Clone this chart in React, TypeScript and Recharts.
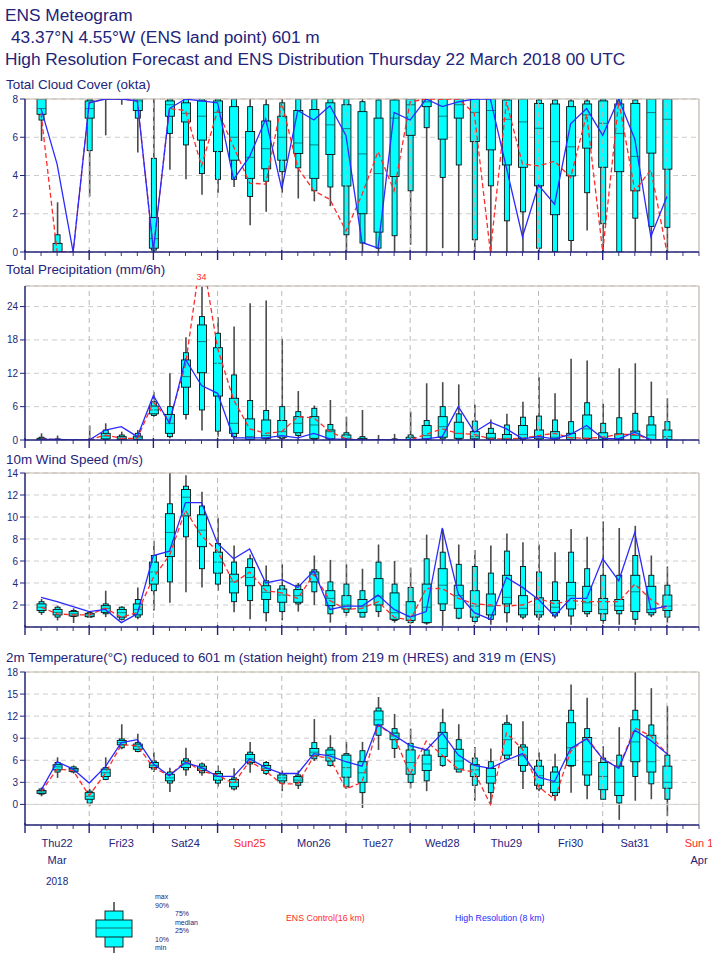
import React from "react";
import { ComposedChart, Bar, Line, XAxis, YAxis, CartesianGrid, ReferenceLine } from "recharts";

const NAVY = "#23237a";
const RED = "#ff2a2a";
const BLUE = "#2a2aff";
const FRAME = "#c2b6ac";
const FONT = '"Liberation Sans", Arial, Helvetica, sans-serif';

// forecast steps (hours after Thu 22 March 2018 00 UTC)
const stepHours = Array.from({ length: 40 }, (_, i) => (i + 1) * 6);
const axisTicks = Array.from({ length: 43 }, (_, i) => i * 6);
const dayBoundaries = [24, 48, 72, 96, 120, 144, 168, 192, 216, 240];
const dayLabels = ["Thu22", "Fri23", "Sat24", "Sun25", "Mon26", "Tue27", "Wed28", "Thu29", "Fri30", "Sat31", "Sun 1"];

// box rows: [min, p10, p25, median, p75, p90, max]
const cloudBoxes = [
  [5.8, 6.9, 7.2, 7.5, 8, 8, 8], [0, 0, 0, 0, 0.45, 0.9, 2.6], [0, 0, 0, 0, 0, 0, 0], [2.9, 5.3, 7.0, 7.5, 7.9, 8, 8],
  [6.1, 8, 8, 8, 8, 8, 8], [7.7, 8, 8, 8, 8, 8, 8], [5.2, 7.0, 7.4, 7.9, 8, 8, 8], [0, 0.1, 0.2, 0.7, 1.8, 4.9, 8],
  [4.3, 6.2, 7.1, 7.7, 7.9, 8, 8], [3.8, 5.6, 6.8, 7.25, 7.8, 8, 8], [3.0, 4.1, 5.85, 7.1, 7.9, 8, 8], [3.1, 3.8, 5.25, 7.3, 7.9, 8, 8],
  [3.4, 3.8, 4.8, 6.0, 7.6, 8, 8], [1.4, 2.9, 3.85, 4.95, 6.3, 7.6, 8], [2.1, 3.7, 4.35, 5.4, 6.85, 7.7, 8], [3.1, 4.2, 4.8, 6.0, 7.1, 7.8, 8],
  [2.8, 4.4, 5.15, 5.7, 7.4, 8, 8], [2.65, 3.2, 3.85, 5.6, 7.45, 8, 8], [2.4, 3.4, 5.1, 6.65, 7.8, 8, 8], [0, 0.9, 3.45, 6.45, 7.7, 8, 8],
  [0, 0.47, 2.0, 5.13, 7.34, 7.86, 8], [0, 0.2, 1.04, 4.1, 7.0, 7.95, 8], [0, 0.85, 3.95, 7.0, 7.95, 7.95, 8], [0.38, 3.2, 6.1, 7.7, 8, 8, 8],
  [0, 6.5, 7.6, 7.85, 8, 8, 8], [0.2, 3.9, 5.9, 7.1, 8, 8, 8], [0, 4.55, 7.0, 7.7, 8, 8, 8], [0, 0.64, 5.77, 7.3, 8, 8, 8],
  [0, 3.46, 5.34, 7.4, 8, 8, 8], [0, 1.63, 4.55, 6.94, 7.95, 8, 8], [0, 2.1, 4.43, 6.8, 8, 8, 8], [0, 0.2, 3.46, 6.47, 7.77, 7.95, 8],
  [0, 0.03, 1.95, 5.77, 7.74, 7.95, 8], [0, 0.6, 3.98, 5.5, 7.6, 7.9, 8], [1.13, 3.1, 5.43, 7.17, 7.74, 7.9, 8], [0, 1.48, 4.43, 6.73, 7.9, 8, 8],
  [0, 0, 4.2, 6.2, 7.74, 8, 8], [0, 1.77, 3.2, 5.0, 7.77, 7.95, 8], [0, 1.34, 5.17, 7.29, 8, 8, 8], [0, 1.29, 4.33, 6.94, 8, 8, 8],
];
const cloudControl = [7.25, 0, 0, 7.8, 8, 8, 7.9, 0.1, 7.5, 7.4, 4.5, 7.4, 5.5, 3.6, 3.55, 7.8, 4.4, 3.2, 2.75, 1.1,
  3.0, 5.25, 3.2, 7.85, 8, 8, 8, 7.25, 0, 7.85, 4.6, 4.5, 4.75, 3.9, 7.2, 0, 7.9, 3.2, 4.3, 0];
const cloudHres = [7.5, 4.6, 0, 7.8, 8, 8, 7.9, 0.1, 7.5, 8, 7.9, 7.8, 3.8, 5.0, 6.95, 3.3, 7.4, 6.9, 7.65, 6.1,
  0.5, 0.2, 7.3, 6.9, 8, 7.6, 7.85, 8, 8, 4.4, 0.8, 3.5, 2.5, 6.7, 7.5, 6.1, 8, 5.9, 0.8, 2.9];

const precipBoxes = [
  [0, 0, 0, 0.1, 0.3, 0.5, 1.2], [0, 0, 0, 0, 0.1, 0.2, 0.8], [0, 0, 0, 0, 0, 0, 0], [0, 0, 0, 0, 0, 0, 2.6],
  [0, 0.1, 0.2, 0.7, 1.2, 1.8, 3.0], [0, 0, 0.1, 0.3, 0.6, 0.9, 1.5], [0, 0, 0.1, 0.4, 0.7, 1.2, 1.8], [4.2, 4.4, 4.7, 5.4, 6.1, 6.9, 8.7],
  [0.3, 0.6, 1.2, 3.0, 4.6, 6.0, 12.0], [3.7, 4.6, 9.5, 11.4, 14.4, 15.7, 18.5], [1.7, 5.4, 12.1, 17.7, 20.7, 22.2, 27.6], [0.6, 1.6, 7.9, 13.8, 16.6, 19.2, 22.1],
  [0.1, 0.6, 1.2, 3.0, 7.5, 11.7, 20.4], [0, 0.1, 0.1, 0.6, 3.8, 7.1, 24.6], [0, 0.2, 0.3, 0.8, 3.6, 5.3, 25.1], [0, 0.3, 0.5, 1.5, 3.5, 6.0, 18.2],
  [0, 0.8, 1.3, 3.0, 4.2, 5.1, 8.8], [0, 0.1, 0.3, 2.7, 4.2, 5.7, 6.2], [0, 0, 0.2, 1.5, 1.8, 2.8, 7.2], [0, 0, 0, 0.3, 0.9, 1.3, 4.2],
  [0, 0, 0, 0.1, 0.3, 0.6, 5.4], [0, 0, 0, 0, 0, 0.1, 0.9], [0, 0, 0, 0, 0.1, 0.2, 1.1], [0, 0, 0, 0.1, 0.5, 0.9, 5.1],
  [0, 0.1, 0.2, 0.8, 2.6, 3.5, 10.2], [0, 0.2, 0.5, 2.4, 4.2, 6.0, 10.4], [0, 0.1, 0.3, 1.2, 3.2, 4.7, 10.0], [0, 0, 0.2, 0.6, 1.5, 3.4, 6.4],
  [0, 0, 0.2, 0.4, 1.2, 2.1, 3.7], [0, 0, 0.1, 0.3, 1.0, 2.7, 4.7], [0, 0.1, 0.3, 1.0, 2.6, 4.1, 6.9], [0, 0, 0.2, 0.6, 1.8, 4.3, 11.3],
  [0, 0, 0.2, 0.5, 1.5, 3.6, 8.4], [0, 0, 0.1, 0.4, 1.2, 3.3, 14.6], [0, 0.1, 0.3, 2.0, 4.5, 6.7, 14.3], [0, 0, 0.1, 0.5, 1.3, 3.0, 6.5],
  [0, 0, 0.1, 0.3, 1.1, 4.0, 12.9], [0, 0, 0.1, 0.8, 1.6, 4.8, 13.8], [0, 0, 0.1, 0.9, 2.7, 4.2, 10.5], [0, 0, 0.1, 0.6, 1.8, 3.3, 7.5],
];
const precipControl = [0.2, 0.1, 0, 0, 0.9, 0.3, 0.3, 6.8, 3.5, 13.5, 34, 16.5, 7.2, 2.0, 1.2, 1.5, 4.2, 4.0, 1.5, 0.2,
  0, 0, 0, 0, 1.0, 2.0, 1.2, 1.0, 0.2, 0.2, 0.3, 0.8, 1.2, 0.4, 0.3, 0.5, 1.0, 1.0, 0.1, 0];
const precipHres = [0.1, 0.1, 0, 0, 1.8, 2.4, 0.6, 8.0, 3.0, 14.5, 9.8, 8.4, 0.4, 0.4, 0.4, 0.8, 0.4, 1.2, 0.2, 0.1,
  0, 0, 0, 0, 0.2, 0.6, 6.0, 1.4, 3.2, 2.0, 0.2, 0.6, 0.2, 1.0, 2.6, 0.3, 0.2, 1.4, 0, 0];

const windBoxes = [
  [1.1, 1.33, 1.5, 1.8, 2.1, 2.3, 2.55], [0.6, 0.9, 1.1, 1.33, 1.6, 1.8, 1.95], [0.36, 0.95, 1.0, 1.2, 1.4, 1.5, 1.7], [0.85, 0.9, 0.94, 1.1, 1.24, 1.3, 1.4],
  [0.9, 1.2, 1.33, 1.7, 1.94, 2.1, 3.3], [0.6, 0.7, 0.9, 1.3, 1.6, 1.8, 1.9], [0.7, 0.9, 1.1, 1.6, 2.1, 2.5, 3.6], [1.5, 3.3, 3.9, 5.0, 5.9, 6.5, 7.85],
  [2.2, 4.1, 6.4, 8.6, 10.3, 11.2, 14], [3.15, 8.2, 10.1, 11.8, 12.5, 12.8, 13.8], [3.6, 5.3, 7.3, 8.8, 10.2, 11.0, 12.3], [3.3, 3.9, 4.9, 5.9, 6.8, 7.6, 9.9],
  [1.33, 2.3, 3.1, 4.1, 4.8, 5.9, 7.4], [0.7, 2.4, 3.75, 4.5, 5.4, 6.2, 6.6], [0.5, 1.3, 2.5, 3.15, 3.75, 4.2, 5.6], [0.6, 1.4, 2.25, 2.9, 3.45, 3.75, 5.7],
  [1.4, 2.1, 2.25, 2.85, 3.4, 3.8, 4.0], [2.0, 3.2, 4.1, 4.8, 5.0, 5.2, 6.5], [0.4, 1.2, 1.94, 2.6, 3.3, 4.1, 6.1], [1.0, 1.33, 1.64, 2.0, 2.85, 3.9, 5.7],
  [0.9, 0.9, 1.33, 1.9, 2.5, 3.3, 5.3], [0.9, 1.4, 2.0, 2.8, 4.4, 5.9, 7.5], [0.4, 0.6, 0.7, 1.3, 3.1, 3.9, 6.0], [0.3, 0.4, 0.6, 1.0, 2.3, 3.6, 5.4],
  [0.2, 0.36, 0.4, 1.8, 3.9, 6.2, 8.4], [0.1, 1.5, 2.1, 3.8, 5.3, 6.8, 8.9], [0.7, 0.8, 1.7, 2.85, 3.8, 5.7, 7.5], [0.3, 0.5, 0.9, 1.9, 3.3, 5.5, 7.0],
  [0.2, 0.7, 1.1, 1.9, 3.0, 4.9, 7.4], [0.4, 1.3, 2.1, 2.7, 4.7, 6.9, 8.5], [0.7, 0.9, 1.1, 1.7, 2.85, 5.5, 7.7], [0.6, 0.9, 1.1, 1.4, 2.65, 5.0, 7.5],
  [0.8, 1.0, 1.3, 1.8, 2.4, 4.1, 6.8], [0.2, 1.0, 1.64, 2.85, 4.06, 6.8, 8.9], [0.9, 1.2, 1.4, 2.2, 3.7, 5.3, 8.2], [0.3, 0.6, 1.2, 1.6, 2.6, 4.7, 9.6],
  [0.2, 1.2, 1.5, 1.9, 2.5, 4.7, 9.0], [0.2, 0.7, 1.4, 3.2, 4.7, 6.5, 9.2], [0.9, 1.1, 1.3, 1.6, 3.7, 4.7, 6.5], [0.4, 0.9, 1.5, 1.9, 2.9, 3.8, 5.5],
];
const windControl = [1.8, 1.2, 1.1, 1.1, 1.7, 0.9, 1.3, 4.5, 6.5, 10.6, 8.3, 6.9, 4.0, 5.0, 3.3, 3.1, 2.6, 4.8, 2.4, 1.6,
  1.7, 2.3, 0.9, 0.6, 3.5, 3.5, 2.6, 2.1, 2.0, 1.9, 2.0, 2.6, 2.1, 2.4, 2.3, 2.3, 2.3, 3.9, 2.5, 1.6];
const windHres = [2.7, 2.3, 1.85, 1.4, 1.6, 0.4, 1.2, 6.5, 6.9, 11.3, 11.3, 7.6, 6.2, 7.1, 4.0, 4.3, 3.6, 5.1, 1.6, 1.9,
  1.9, 2.9, 1.6, 0.9, 1.4, 9.0, 3.0, 1.3, 0.7, 4.5, 3.6, 2.5, 1.0, 2.6, 2.6, 6.2, 4.2, 8.6, 1.6, 1.9];

const tempBoxes = [
  [1.1, 1.4, 1.5, 1.7, 1.9, 2.1, 2.3], [3.6, 4.4, 4.7, 5.1, 5.4, 5.7, 6.4], [4.2, 4.4, 4.5, 4.7, 4.9, 5.1, 5.3], [-0.2, 0.2, 0.7, 1.1, 1.6, 1.8, 2.1],
  [3.3, 3.4, 3.8, 4.3, 4.8, 5.0, 6.4], [7.5, 7.7, 8.1, 8.4, 8.7, 8.9, 10.9], [7.1, 7.2, 7.5, 7.9, 8.2, 8.4, 9.6], [4.4, 4.8, 5.0, 5.3, 5.7, 5.9, 7.1],
  [1.7, 2.9, 3.2, 3.6, 4.1, 4.4, 5.0], [3.9, 4.7, 5.0, 5.5, 5.9, 6.2, 7.7], [3.9, 4.3, 4.6, 4.9, 5.2, 5.5, 5.7], [2.4, 2.9, 3.3, 3.8, 4.2, 4.5, 5.3],
  [1.9, 2.1, 2.4, 3.0, 3.4, 3.6, 4.9], [4.3, 5.5, 5.7, 6.2, 6.8, 7.1, 8.5], [4.0, 4.2, 4.6, 4.9, 5.3, 5.7, 5.9], [1.8, 2.9, 3.2, 3.6, 4.0, 4.2, 4.6],
  [2.1, 2.6, 3.0, 3.3, 3.8, 4.0, 4.6], [5.9, 6.2, 6.6, 7.1, 7.6, 8.4, 11.6], [5.15, 5.3, 5.9, 6.8, 7.4, 7.7, 9.4], [2.1, 2.4, 3.7, 5.0, 6.7, 6.9, 8.5],
  [-0.5, 1.6, 3.0, 4.3, 5.8, 7.3, 8.5], [7.4, 9.4, 10.8, 11.5, 12.7, 13.1, 14.6], [6.3, 7.6, 8.8, 9.3, 9.7, 10.3, 12.3], [2.2, 3.0, 4.1, 5.7, 7.4, 8.3, 10.3],
  [1.8, 3.2, 4.6, 5.5, 6.7, 7.4, 7.6], [5.1, 5.3, 6.5, 7.6, 9.8, 11.1, 13.0], [4.4, 4.4, 4.8, 5.9, 7.5, 8.8, 10.9], [0.5, 2.6, 3.8, 4.7, 5.4, 6.3, 7.8],
  [0, 1.6, 2.9, 3.8, 4.9, 5.8, 7.6], [6.2, 6.2, 6.7, 8.8, 10.9, 11.1, 12.2], [2.1, 4.5, 5.3, 6.6, 7.8, 8.1, 11.3], [1.8, 2.1, 2.6, 3.9, 5.2, 6.0, 7.1],
  [0.5, 1.2, 1.6, 3.0, 4.4, 5.1, 6.9], [1.6, 5.2, 5.3, 7.7, 11.1, 12.8, 16.3], [0.7, 2.6, 4.0, 5.8, 9.1, 10.3, 14.5], [0.7, 0.7, 2.0, 3.8, 5.7, 6.3, 7.9],
  [-2.1, 0.2, 1.2, 3.0, 5.2, 6.7, 10.5], [0.5, 3.8, 5.8, 8.5, 11.5, 12.8, 18.0], [0.7, 2.8, 4.4, 5.8, 9.4, 10.8, 15.8], [-1.6, 0.7, 2.2, 3.0, 5.2, 6.7, 13.4],
];
const tempControl = [1.7, 4.8, 4.6, 1.2, 4.2, 8.1, 8.0, 5.0, 3.9, 5.9, 4.5, 4.0, 2.8, 5.9, 4.5, 2.8, 2.8, 6.6, 6.3, 2.1,
  3.0, 10.8, 9.3, 4.1, 8.6, 6.7, 4.8, 4.4, 0, 9.7, 7.5, 2.4, 0.7, 7.2, 9.1, 6.2, 5.0, 10.4, 9.3, 6.9];
const tempHres = [1.9, 5.8, 4.8, 2.9, 5.1, 8.4, 8.8, 5.5, 3.9, 5.7, 5.0, 3.8, 3.8, 6.2, 5.0, 4.2, 4.2, 6.9, 6.6, 5.8,
  5.2, 10.9, 9.4, 8.0, 7.4, 9.7, 6.7, 5.3, 4.9, 6.0, 6.9, 3.7, 3.1, 7.6, 8.9, 6.2, 4.9, 10.1, 8.7, 6.9];

function buildRows(boxes: number[][], control: number[], hres: number[]) {
  return stepHours.map((h, i) => ({
    hour: h,
    range: [boxes[i][0], boxes[i][6]],
    q: boxes[i],
    control: control[i],
    hres: hres[i],
  }));
}

// ENS box: whisker min-max, narrow box 10-90%, wide box 25-75%, median line
function BoxShape(props: any) {
  const { x, y, width, height, payload } = props;
  if (!payload || x == null || y == null) return null;
  const q: number[] = payload.q;
  const top = Math.min(y, y + height);
  const bottom = Math.max(y, y + height);
  const span = q[6] - q[0];
  if (span <= 0) return null;
  const py = (v: number) => top + ((q[6] - v) / span) * (bottom - top);
  const cx = x + width / 2;
  return (
    <g>
      <line x1={cx} x2={cx} y1={py(q[6])} y2={py(q[0])} stroke="#4a4a4a" strokeWidth={1.6} />
      <rect x={cx - 2.5} width={5} y={py(q[5])} height={Math.max(py(q[1]) - py(q[5]), 0.5)} fill="#00ffff" stroke="#111" strokeWidth={0.9} />
      <rect x={cx - 4.5} width={9} y={py(q[4])} height={Math.max(py(q[2]) - py(q[4]), 0.5)} fill="#00ffff" stroke="#111" strokeWidth={0.9} />
      <line x1={cx - 4.5} x2={cx + 4.5} y1={py(q[3])} y2={py(q[3])} stroke="#1a4a4a" strokeWidth={0.7} />
    </g>
  );
}

function HourTick(props: any) {
  const { x, y, payload, dateAxis } = props;
  const h = payload.value as number;
  const major = h % 24 === 0;
  const di = (h - 12) / 24;
  const label = h % 24 === 12 ? dayLabels[di] : null;
  return (
    <g>
      <line x1={x} x2={x} y1={y - (major ? 2 : 0)} y2={y + (major ? 8 : 4)} stroke={NAVY} strokeWidth={major ? 1.4 : 0.9} />
      {dateAxis && label && (
        <text x={x} y={y + 22} textAnchor="middle" fontSize={11} fontFamily={FONT} fill={label.startsWith("Sun") ? RED : NAVY}>
          {label}
        </text>
      )}
      {dateAxis && di === 0 && (
        <>
          <text x={x} y={y + 39} textAnchor="middle" fontSize={11} fontFamily={FONT} fill={NAVY}>Mar</text>
          <text x={x} y={y + 60} textAnchor="middle" fontSize={10} fontFamily={FONT} fill={NAVY}>2018</text>
        </>
      )}
      {dateAxis && di === 10 && (
        <text x={x} y={y + 39} textAnchor="middle" fontSize={11} fontFamily={FONT} fill={NAVY}>Apr</text>
      )}
    </g>
  );
}

function MeteoPanel(props: {
  rows: any[]; domain: [number, number]; yTicks: number[]; plotTop: number; plotHeight: number;
  marginTop?: number; axisHeight?: number; dateAxis?: boolean; zeroLine?: boolean; peakLabel?: boolean;
}) {
  const { rows, domain, yTicks, plotTop, plotHeight, marginTop = 5, axisHeight = 10, dateAxis = false, zeroLine = false, peakLabel = false } = props;
  const height = marginTop + plotHeight + axisHeight;
  const peak = peakLabel ? rows.find((r) => r.control > domain[1]) : null;
  return (
    <div style={{ position: "absolute", left: 0, top: plotTop - marginTop }}>
      <ComposedChart width={712} height={height} data={rows} margin={{ top: marginTop, right: 13, bottom: 0, left: 0 }}>
        <CartesianGrid vertical={false} stroke="#cccccc" strokeDasharray="5 4" />
        {dayBoundaries.map((h) => (
          <ReferenceLine key={h} x={h} stroke="#b8b8b8" strokeDasharray="5 4" />
        ))}
        {zeroLine && <ReferenceLine y={0} stroke="#d4d4d4" />}
        <ReferenceLine y={domain[1]} stroke={FRAME} strokeWidth={1.2} />
        <ReferenceLine x={252} stroke={FRAME} strokeWidth={1.2} />
        {peak && (
          <ReferenceLine x={peak.hour} stroke="none" label={{ value: String(peak.control), position: "top", fill: RED, fontSize: 9, fontFamily: FONT, offset: 6 }} />
        )}
        <XAxis
          type="number" dataKey="hour" domain={[0, 252]} ticks={axisTicks} interval={0} height={axisHeight}
          tickLine={false} tickSize={0} tickMargin={0} allowDataOverflow
          axisLine={{ stroke: NAVY, strokeWidth: 1.5 }}
          tick={(p: any) => <HourTick {...p} dateAxis={dateAxis} />}
        />
        <YAxis
          type="number" domain={domain} ticks={yTicks} interval={0} width={25} allowDataOverflow
          tickSize={5} tickMargin={2} axisLine={{ stroke: NAVY, strokeWidth: 1.5 }} tickLine={{ stroke: NAVY }}
          tick={{ fill: NAVY, fontSize: 10, fontFamily: FONT }}
        />
        <Bar dataKey="range" barSize={9} shape={(p: any) => <BoxShape {...p} />} isAnimationActive={false} />
        <Line dataKey="control" stroke={RED} strokeDasharray="5 3" strokeWidth={1.3} dot={false} isAnimationActive={false} />
        <Line dataKey="hres" stroke={BLUE} strokeWidth={1.3} dot={false} isAnimationActive={false} />
      </ComposedChart>
    </div>
  );
}

function Title({ text, top, left, size }: { text: string; top: number; left: number; size: number }) {
  return (
    <div style={{ position: "absolute", left, top: top - size * 0.6, fontSize: size, lineHeight: `${size * 1.2}px`, color: NAVY, whiteSpace: "nowrap" }}>
      {text}
    </div>
  );
}

function Legend() {
  const small = { fontSize: 7, fontFamily: FONT, fill: NAVY };
  return (
    <svg width={712} height={63} style={{ position: "absolute", left: 0, top: 890 }}>
      <line x1={114} x2={114} y1={12} y2={63} stroke="#4a4a4a" strokeWidth={1.6} />
      <rect x={105} y={21} width={18} height={36} fill="#00ffff" stroke="#111" strokeWidth={0.9} />
      <rect x={96} y={30} width={36} height={17} fill="#00ffff" stroke="#111" strokeWidth={0.9} />
      <line x1={96} x2={132} y1={38} y2={38} stroke="#1a4a4a" strokeWidth={0.8} />
      <text x={155} y={9} {...small}>max</text>
      <text x={155} y={17.5} {...small}>90%</text>
      <text x={175} y={26} {...small}>75%</text>
      <text x={175} y={34.5} {...small}>median</text>
      <text x={175} y={43} {...small}>25%</text>
      <text x={155} y={51.5} {...small}>10%</text>
      <text x={155} y={60} {...small}>min</text>
      <text x={286} y={31} fontSize={8.8} fontFamily={FONT} fill={RED}>ENS Control(16 km)</text>
      <text x={455} y={31} fontSize={8.8} fontFamily={FONT} fill={BLUE}>High Resolution (8 km)</text>
    </svg>
  );
}

export default function App() {
  const cloudRows = buildRows(cloudBoxes, cloudControl, cloudHres);
  const precipRows = buildRows(precipBoxes, precipControl, precipHres);
  const windRows = buildRows(windBoxes, windControl, windHres);
  const tempRows = buildRows(tempBoxes, tempControl, tempHres);
  return (
    <div style={{ position: "absolute", left: 0, top: 0, width: 712, height: 953, background: "#fff", fontFamily: FONT, overflow: "hidden" }}>
      <Title text="ENS Meteogram" top={15} left={5} size={17.3} />
      <Title text="43.37°N 4.55°W (ENS land point) 601 m" top={37} left={11} size={17.3} />
      <Title text="High Resolution Forecast and ENS Distribution Thursday 22 March 2018 00 UTC" top={59} left={5} size={17.3} />
      <Title text="Total Cloud Cover (okta)" top={85} left={6} size={13.4} />
      <Title text="Total Precipitation (mm/6h)" top={270} left={6} size={13.4} />
      <Title text="10m Wind Speed (m/s)" top={460} left={6} size={13.4} />
      <Title text="2m Temperature(°C) reduced to 601 m (station height) from 219 m (HRES) and 319 m (ENS)" top={658} left={6} size={13.4} />
      <MeteoPanel rows={cloudRows} domain={[0, 8]} yTicks={[0, 2, 4, 6, 8]} plotTop={99} plotHeight={153} />
      <MeteoPanel rows={precipRows} domain={[0, 27.7]} yTicks={[0, 6, 12, 18, 24]} plotTop={286} plotHeight={154} marginTop={16} peakLabel />
      <MeteoPanel rows={windRows} domain={[0, 14]} yTicks={[2, 4, 6, 8, 10, 12, 14]} plotTop={473} plotHeight={154} />
      <MeteoPanel rows={tempRows} domain={[-2.8, 18]} yTicks={[0, 3, 6, 9, 12, 15, 18]} plotTop={672} plotHeight={153} axisHeight={65} dateAxis zeroLine />
      <Legend />
    </div>
  );
}
